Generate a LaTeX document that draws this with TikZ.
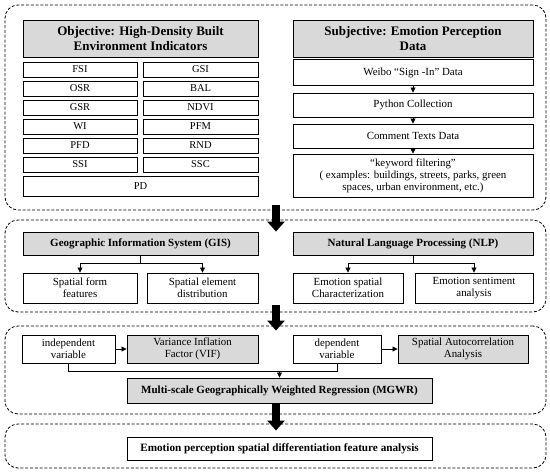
\documentclass[tikz,border=0pt]{standalone}
\usepackage{fontspec}
\setmainfont{Liberation Serif}
\usetikzlibrary{arrows.meta,calc}
\definecolor{boxgray}{gray}{0.85}
\tikzstyle{panel} = [draw, dash pattern=on 3pt off 1.8pt, line width=0.8pt, rounded corners=13pt, inner sep=0pt]
\tikzstyle{box} = [draw, line width=0.9pt, rectangle, text centered, align=center, inner sep=1pt, font=\fontsize{10.9}{12}\selectfont]
\tikzstyle{head} = [box, fill=boxgray, font=\fontsize{13}{14.5}\selectfont\bfseries]
\tikzstyle{subhead} = [box, fill=boxgray, font=\fontsize{11}{12}\selectfont\bfseries]
\tikzstyle{cell} = [box, minimum height=15pt, font=\fontsize{10.5}{11}\selectfont]
\tikzstyle{line} = [draw, line width=0.8pt, -{Triangle[length=5pt,width=5pt]}]
\tikzstyle{bigarrow} = [draw, line width=8pt, -{Triangle[length=10pt,width=17pt]}]

\begin{document}
\begin{tikzpicture}[x=1pt, y=-1pt, node distance=19pt]
        \useasboundingbox (0,0) rectangle (550,475);
        \node[panel, minimum width=541pt, minimum height=205pt] (pan1) at (275.5,107.5) {};
        \node[panel, minimum width=541pt, minimum height=92pt] (pan2) at (275.5,266) {};
        \node[panel, minimum width=541pt, minimum height=88pt] (pan3) at (275.5,370) {};
        \node[panel, minimum width=541pt, minimum height=44pt] (pan4) at (275.5,446) {};

        \node[head, minimum width=235pt, minimum height=37pt] (obj) at (140.5,38.5) {Objective: High-Density Built\\Environment Indicators};
        \node[cell, minimum width=114pt] (fsi) at (80,69.5) {FSI};
        \node[cell, minimum width=114pt, below of=fsi] (osr) {OSR};
        \node[cell, minimum width=114pt, below of=osr] (gsr) {GSR};
        \node[cell, minimum width=114pt, below of=gsr] (wi) {WI};
        \node[cell, minimum width=114pt, below of=wi] (pfd) {PFD};
        \node[cell, minimum width=114pt, below of=pfd] (ssi) {SSI};
        \node[cell, minimum width=115pt] (gsi) at (200.5,69.5) {GSI};
        \node[cell, minimum width=115pt, below of=gsi] (bal) {BAL};
        \node[cell, minimum width=115pt, below of=bal] (ndvi) {NDVI};
        \node[cell, minimum width=115pt, below of=ndvi] (pfm) {PFM};
        \node[cell, minimum width=115pt, below of=pfm] (rnd) {RND};
        \node[cell, minimum width=115pt, below of=rnd] (ssc) {SSC};
        \node[cell, minimum width=235pt, minimum height=20pt] (pd) at (140.5,186) {PD};

        \node[head, minimum width=240pt, minimum height=37pt] (subj) at (413,38.5) {Subjective: Emotion Perception\\Data};
        \node[box, minimum width=240pt, minimum height=26pt] (weibo) at (413,72.5) {Weibo ``Sign -In'' Data};
        \node[box, minimum width=240pt, minimum height=24pt] (python) at (413,105) {Python Collection};
        \node[box, minimum width=240pt, minimum height=24pt] (comment) at (413,136) {Comment Texts Data};
        \node[box, minimum width=240pt, minimum height=43pt] (keyword) at (413,175.5) {``keyword filtering''\\( examples: buildings, streets, parks, green\\spaces, urban environment, etc.)};
        \path[line] (weibo) -- (python);
        \path[line] (python) -- (comment);
        \path[line] (comment) -- (keyword);

        \node[subhead, minimum width=235pt, minimum height=23pt] (gis) at (140.5,243.5) {Geographic Information System (GIS)};
        \node[box, minimum width=114pt, minimum height=30pt] (form) at (80,288) {Spatial form\\features};
        \node[box, minimum width=111pt, minimum height=30pt] (elem) at (202.5,288) {Spatial element\\distribution};
        \node[subhead, minimum width=240pt, minimum height=23pt] (nlp) at (413,243.5) {Natural Language Processing (NLP)};
        \node[box, minimum width=110pt, minimum height=30pt] (char) at (348,288) {Emotion spatial\\Characterization};
        \node[box, minimum width=118pt, minimum height=30pt] (senti) at (474,288) {Emotion sentiment\\analysis};
        \draw[line width=0.8pt] (gis.south) -- ++(0,8) coordinate (gisj);
        \path[line] (gisj) -| (form.north);
        \path[line] (gisj) -| (elem.north);
        \draw[line width=0.8pt] (nlp.south) -- ++(0,8) coordinate (nlpj);
        \path[line] (nlpj) -| (char.north);
        \path[line] (nlpj) -| (senti.north);

        \node[box, minimum width=93pt, minimum height=28pt] (indep) at (68.5,349) {independent\\variable};
        \node[box, fill=boxgray, minimum width=131pt, minimum height=28pt] (vif) at (192.5,349) {Variance Inflation\\Factor (VIF)};
        \node[box, minimum width=88pt, minimum height=28pt] (dep) at (337,349) {dependent\\variable};
        \node[box, fill=boxgray, minimum width=130pt, minimum height=28pt] (saa) at (463,349) {Spatial Autocorrelation\\Analysis};
        \node[subhead, minimum width=305pt, minimum height=25pt] (mgwr) at (279.5,390.5) {Multi-scale Geographically Weighted Regression (MGWR)};
        \path[line] (indep) -- (vif);
        \path[line] (dep) -- (saa);
        \draw[line width=0.8pt] (indep.south) |- (dep.south |- 0,371) -- (dep.south);
        \path[line] (mgwr.north |- 0,371) -- (mgwr.north);

        \node[box, minimum width=305pt, minimum height=23pt, font=\fontsize{11.2}{12}\selectfont\bfseries] (final) at (279.5,448.5) {Emotion perception spatial differentiation feature analysis};

        \coordinate (a1s) at ($(pan1.south)+(0.5,-5)$);
        \coordinate (a1e) at ($(pan2.north)+(0.5,12)$);
        \coordinate (a2s) at ($(pan2.south)+(0.5,-7)$);
        \coordinate (a2e) at ($(pan3.north)+(0.5,5)$);
        \coordinate (a3s) at ($(pan3.south)+(0.5,-10)$);
        \coordinate (a3e) at ($(pan4.north)+(0.5,7)$);
        \path[bigarrow] (a1s) -- (a1e);
        \path[bigarrow] (a2s) -- (a2e);
        \path[bigarrow] (a3s) -- (a3e);
    \end{tikzpicture}
\end{document}
